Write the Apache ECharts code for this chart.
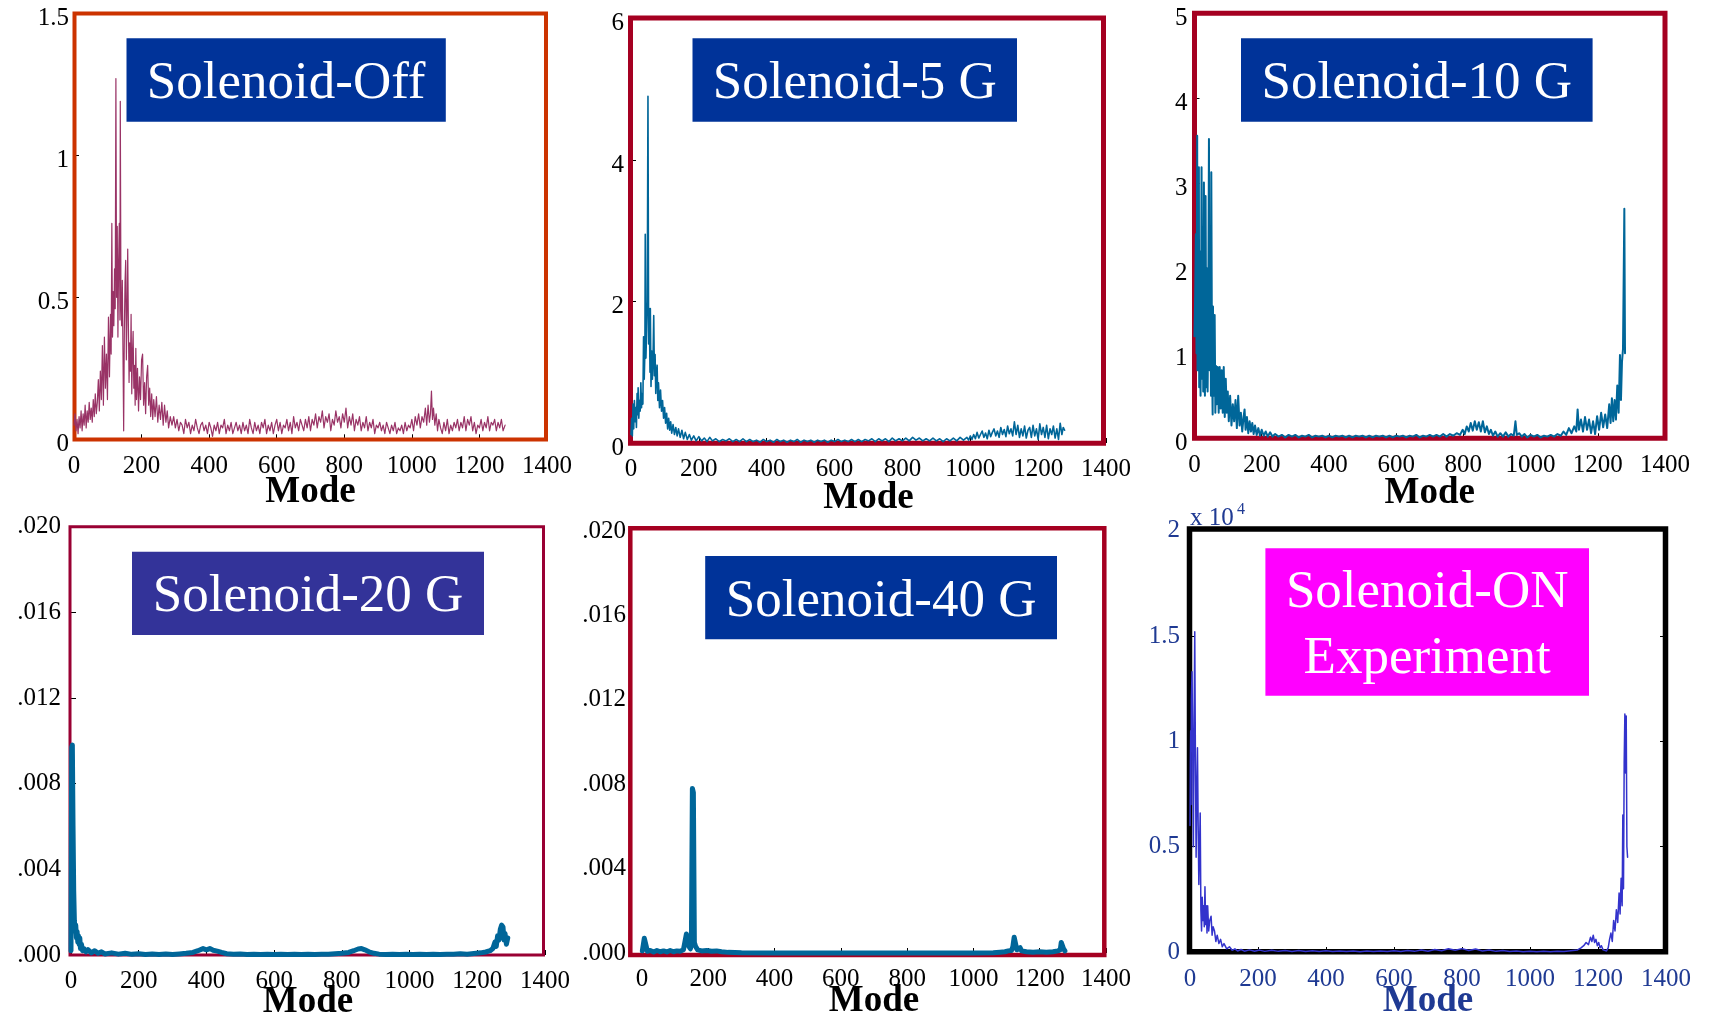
<!DOCTYPE html>
<html>
<head>
<meta charset="utf-8">
<script src="https://cdn.jsdelivr.net/npm/echarts@6/dist/echarts.min.js"></script>
<style>
html,body{margin:0;padding:0;background:#fff;}
#chart{width:1710px;height:1016px;}
</style>
</head>
<body>
<div id="chart"></div>
<script>
// ---------------- DATA ----------------
const panelTitles = ['Solenoid-Off', 'Solenoid-5 G', 'Solenoid-10 G', 'Solenoid-20 G', 'Solenoid-40 G', 'Solenoid-ON\nExperiment'];
const xAxisName = 'Mode';
const xTickStep = 200;          // modes 0..1400
const xMaxMode = 1400;
const yMaxValues = [1.5, 6, 5, 0.020, 0.020, 20000];
const yTickSteps = [0.5, 2, 1, 0.004, 0.004, 5000];
const expScaleLabel = 'x 10';   // panel 6 axis multiplier
const expScalePower = '4';

// [mode, amplitude]
const solenoidOff = [[0,0.05],[3,0.09],[6,0.03],[9,0.07],[12,0.02],[15,0.08],[18,0.04],[21,0.10],[24,0.03],[27,0.09],[30,0.05],[33,0.12],[36,0.04],[39,0.10],[42,0.06],[45,0.13],[48,0.07],[51,0.11],[54,0.06],[57,0.14],[60,0.08],[63,0.16],[66,0.09],[69,0.13],[72,0.21],[75,0.10],[78,0.24],[81,0.14],[84,0.33],[87,0.12],[90,0.36],[93,0.18],[96,0.30],[99,0.14],[102,0.43],[105,0.22],[108,0.44],[110,0.30],[112,0.76],[114,0.36],[116,0.52],[118,0.40],[120,0.60],[122,0.46],[124,1.27],[126,0.50],[128,0.75],[130,0.36],[132,0.62],[134,0.76],[136,0.42],[137,1.19],[139,0.48],[141,0.40],[143,0.56],[145,0.30],[147,0.03],[149,0.38],[151,0.55],[153,0.63],[155,0.28],[157,0.45],[159,0.67],[161,0.40],[163,0.20],[165,0.34],[167,0.24],[169,0.44],[171,0.16],[173,0.30],[175,0.38],[177,0.18],[179,0.26],[181,0.12],[183,0.32],[185,0.14],[188,0.25],[191,0.10],[194,0.22],[197,0.14],[200,0.28],[203,0.30],[206,0.12],[209,0.20],[212,0.09],[215,0.22],[218,0.26],[221,0.12],[224,0.18],[227,0.08],[230,0.16],[233,0.07],[236,0.14],[240,0.08],[244,0.15],[248,0.06],[252,0.12],[256,0.07],[260,0.13],[264,0.05],[268,0.12],[272,0.06],[276,0.10],[280,0.04],[285,0.08],
[290,0.05],[295,0.08],[300,0.04],[305,0.07],[310,0.03],[315,0.06],[320,0.05],[325,0.02],[330,0.07],[335,0.04],[340,0.06],[345,0.02],[350,0.05],[355,0.03],[360,0.07],[365,0.04],[370,0.02],[375,0.05],[380,0.06],[385,0.03],[390,0.05],[395,0.02],[400,0.06],[405,0.04],[410,0.01],[415,0.05],[420,0.03],[425,0.06],[430,0.02],[435,0.05],[440,0.04],[445,0.07],[450,0.02],[455,0.05],[460,0.03],[465,0.06],[470,0.02],[475,0.04],[480,0.06],[485,0.03],[490,0.05],[495,0.02],[500,0.06],
[505,0.03],[510,0.05],[515,0.02],[520,0.07],[525,0.04],[530,0.02],[535,0.06],[540,0.03],[545,0.05],[550,0.02],[555,0.06],[560,0.04],[565,0.07],[570,0.02],[575,0.05],[580,0.03],[585,0.06],[590,0.02],[595,0.05],[600,0.07],[605,0.03],[610,0.06],[615,0.02],[620,0.05],[625,0.04],[630,0.07],[635,0.03],[640,0.06],[645,0.02],[650,0.08],[655,0.04],[660,0.06],[665,0.03],[670,0.07],[675,0.05],[680,0.03],[685,0.07],[690,0.04],[695,0.08],[700,0.03],
[705,0.07],[710,0.05],[715,0.09],[720,0.04],[725,0.08],[730,0.06],[735,0.10],[740,0.04],[745,0.08],[750,0.06],[755,0.09],[760,0.03],[765,0.07],[770,0.05],[775,0.10],[780,0.06],[785,0.08],[790,0.04],[795,0.09],[800,0.06],[805,0.11],[810,0.04],[815,0.08],[820,0.05],[825,0.09],[830,0.03],[835,0.07],[840,0.05],[845,0.08],[850,0.03],[855,0.06],[860,0.04],[865,0.08],[870,0.03],[875,0.06],[880,0.04],[885,0.07],[890,0.02],[895,0.05],[900,0.04],
[905,0.06],[910,0.03],[915,0.05],[920,0.02],[925,0.06],[930,0.04],[935,0.02],[940,0.05],[945,0.03],[950,0.06],[955,0.02],[960,0.04],[965,0.03],[970,0.05],[975,0.02],[980,0.06],[985,0.03],[990,0.05],[995,0.04],[1000,0.07],[1005,0.03],[1010,0.08],[1015,0.05],[1020,0.09],[1025,0.04],[1030,0.08],[1035,0.06],[1040,0.11],
[1044,0.05],[1048,0.12],[1052,0.06],[1055,0.09],[1058,0.17],[1061,0.07],[1064,0.11],[1068,0.05],[1072,0.09],
[1076,0.03],[1080,0.07],[1085,0.04],[1090,0.02],[1095,0.06],[1100,0.03],[1105,0.07],[1110,0.02],[1115,0.05],[1120,0.03],[1125,0.06],[1130,0.04],[1135,0.07],[1140,0.03],[1145,0.06],[1150,0.04],[1155,0.08],[1160,0.03],[1165,0.07],[1170,0.05],[1175,0.08],[1180,0.03],[1185,0.06],[1190,0.02],[1195,0.05],[1200,0.04],[1205,0.07],[1210,0.03],[1215,0.06],[1220,0.04],[1225,0.08],[1230,0.03],[1235,0.06],[1240,0.05],[1245,0.07],[1250,0.03],[1255,0.06],[1260,0.04],[1265,0.07],[1270,0.03],[1276,0.05]];

const solenoid5G = [[0,0.12],[2,0.35],[4,0.1],[6,0.55],[8,0.2],[10,0.6],[12,0.3],[14,0.5],[16,0.22],[18,0.7],[20,0.4],[21,0.78],[23,0.35],[25,0.6],[27,0.45],[29,0.85],[31,0.5],[33,0.7],[35,0.55],[37,1.5],[39,0.9],[41,1.3],[42,2.95],[44,1.2],[46,1.6],[48,2.0],[50,4.9],[52,1.4],[54,1.9],[56,1.0],[57,1.9],[59,0.8],[61,1.3],[63,0.9],[65,1.2],[67,1.8],[69,0.95],[71,1.25],[73,0.7],[75,1.0],[77,1.1],[79,0.6],[81,0.85],[84,0.5],[87,0.75],[90,0.45],[93,0.6],[96,0.35],[99,0.5],[102,0.28],[105,0.42],[108,0.2],[111,0.35],[114,0.18],[117,0.3],[120,0.14],[124,0.26],[128,0.12],[132,0.22],[136,0.1],[140,0.2],[145,0.08],[150,0.18],[155,0.06],[160,0.15],[166,0.05],[172,0.12],[178,0.04],[185,0.1],[192,0.03],[200,0.09],[208,0.03],[216,0.07],[224,0.02],[232,0.08],[240,0.03],[250,0.06],[260,0.02],[270,0.05],[280,0.03],[290,0.06],[300,0.02],[310,0.05],[320,0.02],[330,0.06],[340,0.02],[350,0.05],[360,0.02],[370,0.04],[380,0.01],[390,0.05],[400,0.02],[410,0.04],[420,0.01],[430,0.05],[440,0.02],[450,0.04],[460,0.01],[470,0.04],[480,0.02],[490,0.05],[500,0.01],[510,0.04],[520,0.02],[530,0.04],[540,0.01],[550,0.04],[560,0.02],[570,0.04],[580,0.01],[590,0.04],[600,0.02],[610,0.05],[620,0.02],[630,0.04],[640,0.02],[650,0.05],[660,0.02],[670,0.05],[680,0.02],[690,0.05],[700,0.03],[710,0.06],[720,0.02],[730,0.06],[740,0.03],[750,0.06],[760,0.02],[770,0.07],[780,0.03],[790,0.06],[800,0.03],[810,0.07],[820,0.03],[830,0.08],[840,0.04],[850,0.07],[860,0.03],[870,0.06],[880,0.03],[890,0.07],[900,0.03],[910,0.06],[920,0.02],[930,0.06],[940,0.03],[950,0.07],[960,0.03],[970,0.08],[980,0.04],
[990,0.08],[995,0.04],[1000,0.1],[1005,0.05],[1010,0.12],[1015,0.06],[1020,0.15],[1025,0.07],[1030,0.12],[1035,0.17],[1040,0.08],[1045,0.14],[1050,0.06],[1055,0.18],[1060,0.09],[1065,0.15],[1070,0.2],[1075,0.1],[1080,0.17],[1085,0.08],[1090,0.22],[1095,0.12],[1100,0.19],[1105,0.09],[1110,0.24],[1115,0.13],[1120,0.2],[1125,0.1],[1130,0.3],[1135,0.12],[1140,0.25],[1145,0.08],[1150,0.2],[1155,0.1],[1160,0.24],[1165,0.07],[1170,0.18],[1175,0.22],[1180,0.08],[1185,0.25],[1190,0.1],[1195,0.2],[1200,0.05],[1205,0.27],[1210,0.12],[1215,0.22],[1220,0.08],[1225,0.25],[1230,0.06],[1235,0.2],[1240,0.12],[1245,0.24],[1250,0.07],[1255,0.2],[1260,0.05],[1265,0.28],[1270,0.12],[1274,0.22],[1278,0.18]];

const solenoid10G = [[0,1.2],[2,1.7],[4,2.4],[6,1.0],[8,3.56],[9,0.8],[11,3.19],[12,1.2],[13,3.19],[14,0.6],[16,2.2],[18,0.5],[20,1.8],[21,3.19],[23,0.7],[25,2.4],[26,0.55],[28,3.01],[30,1.2],[31,0.5],[33,2.85],[35,0.6],[37,2.0],[39,0.55],[41,1.4],[43,3.52],[45,0.8],[47,2.3],[49,0.5],[50,3.13],[52,0.9],[54,0.28],[55,1.55],[57,0.5],[60,1.45],[62,0.3],[64,0.85],[66,0.4],[69,0.84],[72,0.3],[75,0.84],[78,0.35],[81,0.8],[84,0.3],[87,0.84],[90,0.25],[93,0.7],[96,0.3],[99,0.55],[102,0.2],[106,0.5],[110,0.15],[114,0.4],[118,0.2],[122,0.45],[126,0.12],[130,0.5],[134,0.15],[138,0.3],[142,0.08],[146,0.25],[149,0.34],[152,0.1],[156,0.25],[160,0.06],[164,0.2],[168,0.08],[172,0.18],[176,0.05],[180,0.15],[185,0.04],[190,0.12],[195,0.03],[200,0.1],[206,0.03],[212,0.08],[218,0.02],[225,0.07],[232,0.02],[240,0.05],[250,0.02],[260,0.04],[270,0.01],[280,0.04],[290,0.02],[300,0.04],[310,0.01],[320,0.03],[330,0.02],[340,0.04],[350,0.01],[360,0.03],[370,0.02],[380,0.03],[390,0.01],[400,0.03],[410,0.01],[420,0.03],[430,0.02],[440,0.03],[450,0.01],[460,0.03],[470,0.01],[480,0.03],[490,0.02],[500,0.03],[510,0.01],[520,0.03],[530,0.01],[540,0.03],[550,0.02],[560,0.03],[570,0.01],[580,0.03],[590,0.01],[600,0.03],[610,0.02],[620,0.03],[630,0.01],[640,0.03],[650,0.02],[660,0.04],[670,0.01],[680,0.03],[690,0.02],[700,0.04],[710,0.02],[720,0.04],[730,0.02],[740,0.05],[750,0.02],[760,0.05],[770,0.03],[780,0.06],[790,0.04],[798,0.1],[804,0.05],[810,0.14],[816,0.08],[822,0.18],[828,0.09],[834,0.2],[840,0.1],[846,0.19],[852,0.08],[858,0.2],[864,0.07],[870,0.14],[876,0.05],[882,0.1],[888,0.03],[895,0.08],[902,0.02],[910,0.06],[918,0.02],[926,0.07],[934,0.02],[942,0.05],[950,0.03],[955,0.2],[959,0.04],[966,0.06],[974,0.02],[982,0.05],[990,0.01],[1000,0.04],[1010,0.02],[1020,0.04],[1030,0.01],[1040,0.03],[1050,0.02],[1060,0.04],[1070,0.02],[1080,0.05],[1090,0.03],[1098,0.08],[1106,0.04],[1114,0.12],[1122,0.06],[1130,0.14],[1136,0.08],[1140,0.34],[1144,0.1],[1150,0.22],[1156,0.08],[1162,0.25],[1168,0.1],[1174,0.22],[1180,0.06],[1186,0.2],[1192,0.05],[1198,0.26],[1204,0.1],[1210,0.3],[1216,0.13],[1222,0.28],[1228,0.12],[1234,0.4],[1238,0.18],[1242,0.47],[1246,0.2],[1250,0.45],[1254,0.22],[1258,0.62],[1262,0.3],[1266,0.98],[1269,0.45],[1272,0.9],[1275,1.05],[1279,2.7],[1281,1.0]];

const solenoid20G = [[0,0.0002],[2,0.0097],[4,0.0098],[6,0.006],[8,0.003],[10,0.0016],[12,0.0011],[14,0.0014],[16,0.0008],[18,0.0011],[20,0.0006],[22,0.0009],[24,0.0005],[26,0.0008],[28,0.0003],[31,0.0005],[34,0.0002],[38,0.0003],[44,0.00015],[50,0.00025],[60,0.0001],[70,0.0002],[80,0.00008],[90,0.00015],[100,0.00005],[120,0.0001],[140,0.00004],[160,0.00008],[180,0.00003],[200,0.00006],[220,0.00002],[240,0.00005],[260,0.00002],[280,0.00005],[300,0.00002],[320,0.00005],[340,0.00008],[360,0.00012],[375,0.0002],[390,0.0003],[400,0.00024],[410,0.0003],[420,0.00022],[432,0.00018],[445,0.00012],[460,0.00006],[480,0.00003],[500,0.00005],[520,0.00002],[540,0.00004],[560,0.00002],[580,0.00004],[600,0.00002],[620,0.00004],[640,0.00002],[660,0.00004],[680,0.00002],[700,0.00004],[720,0.00002],[740,0.00004],[760,0.00003],[780,0.00006],[800,0.00008],[820,0.00012],[835,0.0002],[848,0.00028],[858,0.0003],[868,0.00024],[880,0.00015],[895,0.00008],[910,0.00004],[930,0.00002],[950,0.00004],[970,0.00002],[990,0.00004],[1010,0.00002],[1030,0.00004],[1050,0.00002],[1070,0.00004],[1090,0.00002],[1110,0.00004],[1130,0.00003],[1150,0.00006],[1170,0.00004],[1190,0.00007],[1210,0.0001],[1225,0.00014],[1238,0.0002],[1246,0.0003],[1252,0.0006],[1256,0.0004],[1260,0.0009],[1264,0.0007],[1268,0.0012],[1272,0.0014],[1276,0.0013],[1279,0.0007],[1282,0.001],[1286,0.0005],[1290,0.0008]];

const solenoid40G = [[1,0.0001],[4,0.0004],[7,0.0007],[10,0.00075],[13,0.0003],[16,0.00008],[25,0.00012],[35,0.00005],[45,0.00012],[55,0.00006],[65,0.0001],[75,0.00005],[85,0.00012],[95,0.00006],[105,0.0001],[115,0.00008],[125,0.00015],[130,0.0002],[134,0.0009],[138,0.0009],[142,0.0003],[146,0.0002],[149,0.0004],[152,0.0078],[155,0.0076],[158,0.0005],[162,0.0003],[168,0.00015],[180,0.0001],[195,0.00012],[210,0.00008],[225,0.0001],[240,0.00006],[260,0.00003],[300,0.00001],[400,0.0],[600,0.0],[800,0.0],[1000,0.0],[1060,0.00001],[1080,0.00004],[1095,0.00006],[1105,0.0001],[1115,0.00012],[1119,0.0003],[1123,0.00075],[1127,0.0007],[1131,0.00015],[1137,0.0001],[1141,0.00025],[1145,0.0001],[1160,0.00006],[1180,0.00004],[1200,0.00006],[1220,0.00004],[1240,0.00006],[1255,0.0001],[1262,0.00015],[1265,0.0005],[1269,0.00056],[1272,0.0002],[1276,0.0001]];

const solenoidOnExperiment = [[0,6000],[1,9000],[2,10500],[3,7000],[4,12000],[6,13300],[8,9500],[10,5000],[12,11000],[14,15200],[16,9000],[18,4500],[20,7500],[22,9700],[24,6000],[26,3200],[28,5000],[30,6600],[32,2000],[34,1000],[36,2600],[38,1500],[40,2200],[42,1200],[44,3100],[46,1300],[48,2200],[50,900],[52,2200],[55,1000],[58,1500],[62,1700],[65,800],[68,1200],[72,1000],[76,500],[80,800],[85,400],[90,600],[95,250],[100,400],[108,150],[116,250],[124,80],[132,150],[140,50],[150,120],[160,40],[175,100],[190,40],[205,90],[220,30],[240,80],[260,30],[280,70],[300,25],[320,70],[340,25],[360,60],[380,20],[400,60],[420,20],[440,50],[460,20],[480,50],[500,15],[520,50],[540,20],[560,50],[580,20],[600,60],[620,25],[640,70],[660,30],[680,90],[700,40],[720,120],[740,60],[760,150],[780,80],[800,160],[820,70],[840,140],[860,50],[880,100],[900,30],[920,70],[940,20],[960,50],[980,15],[1000,40],[1020,15],[1040,40],[1060,10],[1080,40],[1100,20],[1120,60],[1140,100],[1150,200],[1158,300],[1165,450],[1172,350],[1178,700],[1182,500],[1186,800],[1190,450],[1194,600],[1198,300],[1202,450],[1206,200],[1210,300],[1215,100],[1220,150],[1225,50],[1230,200],[1234,600],[1238,900],[1242,500],[1246,1500],[1250,1000],[1254,2000],[1258,1400],[1262,2800],[1265,1800],[1268,3500],[1271,2200],[1273,6500],[1275,3000],[1277,9000],[1279,11300],[1281,8500],[1283,11200],[1285,5000],[1287,4500]];

const panelData = [solenoidOff, solenoid5G, solenoid10G, solenoid20G, solenoid40G, solenoidOnExperiment];

// ---------------- LAYOUT & STYLE ----------------
const FONT = '"Liberation Serif", "Times New Roman", serif';
const layout = [
  {grid:{left:74, top:13.3, width:473, height:426}, frame:[74.5,13.5,471.5,426], frameColor:'#CC3300', frameWidth:4,
   box:[126.5,38.3,319.3,83.4], boxColor:'#003399', line:'#993366', lineWidth:1.2, yMargin:5, yShift:5, yTicks:true, xMargin:15, nameGap:35, text:'#000'},
  {grid:{left:631, top:18.5, width:475, height:424.5}, frame:[630.5,18,473,425.3], frameColor:'#A50021', frameWidth:5,
   box:[692.5,38.3,324.5,83.4], boxColor:'#003399', line:'#006699', lineWidth:1.6, yMargin:7, yShift:5, yTicks:true, xMargin:14, nameGap:37, text:'#000'},
  {grid:{left:1194.5, top:13.3, width:470.5, height:425}, frame:[1194.5,13.3,470.5,425], frameColor:'#A50021', frameWidth:5,
   box:[1241,38.3,351.6,83.4], boxColor:'#003399', line:'#006699', lineWidth:2, yMargin:7, yShift:5, yTicks:true, xMargin:15, nameGap:37, text:'#000'},
  {grid:{left:71, top:526.7, width:474, height:428.3}, frame:[70,526.7,473.5,428.3], frameColor:'#990033', frameWidth:3,
   box:[132,551.7,352,83.3], boxColor:'#333399', line:'#006699', lineWidth:5, yMargin:10, yShift:0, yTicks:true, xMargin:14, nameGap:29, text:'#000'},
  {grid:{left:642, top:531, width:464, height:422}, frame:[630.3,528.3,474,426.7], frameColor:'#A50021', frameWidth:4.5,
   box:[705.2,556,351.8,83.3], boxColor:'#003399', line:'#006699', lineWidth:5, yMargin:16, yShift:0, yTicks:false, xMargin:14, nameGap:30, text:'#000'},
  {grid:{left:1190, top:530.7, width:476, height:421.3}, frame:[1189.5,529,476,422.7], frameColor:'#000000', frameWidth:5.5,
   box:[1265.4,548.3,323.6,147.4], boxColor:'#FF00FF', line:'#3333CC', lineWidth:1.5, yMargin:10, yShift:0, yTicks:true, xMargin:15, nameGap:31, text:'#1F3A93'}
];

const yFormatters = [
  null, null, null,
  v => v.toFixed(3).replace(/^0/, ''),
  v => v.toFixed(3).replace(/^0/, ''),
  v => String(+(v / 10000).toFixed(1))
];

const grids = [], xAxes = [], yAxes = [], series = [], graphics = [];
layout.forEach((L, i) => {
  grids.push(Object.assign({show:false, containLabel:false, outerBoundsMode:'none'}, L.grid));
  xAxes.push({
    type:'value', gridIndex:i, min:0, max:xMaxMode, interval:xTickStep,
    axisLine:{show:false}, splitLine:{show:false},
    axisTick:{show:true, inside:true, length:5, lineStyle:{color:'#000', width:1}},
    axisLabel:{fontFamily:FONT, fontSize:25, color:L.text, margin:L.xMargin, formatter:v => String(v)},
    name:xAxisName, nameLocation:'middle', nameGap:L.nameGap, nameMoveOverlap:false,
    nameTextStyle:{fontFamily:FONT, fontSize:37, fontWeight:'bold', color:L.text}
  });
  const yLabel = {fontFamily:FONT, fontSize:25, color:L.text, margin:L.yMargin};
  if (L.yShift) { yLabel.verticalAlign = 'top'; yLabel.lineHeight = 2 * L.yShift; }
  if (yFormatters[i]) yLabel.formatter = yFormatters[i];
  yAxes.push({
    type:'value', gridIndex:i, min:0, max:yMaxValues[i], interval:yTickSteps[i],
    axisLine:{show:false}, splitLine:{show:false},
    axisTick:{show:L.yTicks, inside:true, length:5, lineStyle:{color:'#000', width:1}},
    axisLabel:yLabel
  });
  series.push({
    type:'line', xAxisIndex:i, yAxisIndex:i, data:panelData[i],
    showSymbol:false, symbol:'none', clip:false, silent:true, z:3,
    lineStyle:{color:L.line, width:L.lineWidth, cap:'round', join:'round'}
  });
  const [fx, fy, fw, fh] = L.frame;
  graphics.push({type:'rect', z:1, silent:true, shape:{x:fx, y:fy, width:fw, height:fh},
    style:{fill:null, stroke:L.frameColor, lineWidth:L.frameWidth}});
  const [bx, by, bw, bh] = L.box;
  graphics.push({type:'rect', z:10, silent:true, shape:{x:bx, y:by, width:bw, height:bh},
    style:{fill:L.boxColor, stroke:null}});
  graphics.push({type:'text', z:11, silent:true, x:bx + bw/2, y:by + bh/2 + 4,
    style:{text:panelTitles[i], fill:'#fff', fontFamily:FONT, fontSize:53, align:'center', verticalAlign:'middle', lineHeight:66}});
});
// right-hand tick axis for the experiment panel
yAxes.push({
  type:'value', gridIndex:5, position:'right', min:0, max:yMaxValues[5], interval:yTickSteps[5],
  axisLine:{show:false}, splitLine:{show:false}, axisLabel:{show:false},
  axisTick:{show:true, inside:true, length:6, lineStyle:{color:'#000', width:1}}
});
graphics.push({type:'text', z:11, silent:true, x:1190, y:518,
  style:{text:expScaleLabel, fill:'#1F3A93', fontFamily:FONT, fontSize:25, align:'left', verticalAlign:'middle'}});
graphics.push({type:'text', z:11, silent:true, x:1237, y:510,
  style:{text:expScalePower, fill:'#1F3A93', fontFamily:FONT, fontSize:16, align:'left', verticalAlign:'middle'}});

const chart = echarts.init(document.getElementById('chart'), null, {renderer:'canvas'});
chart.setOption({
  animation:false,
  backgroundColor:'#ffffff',
  grid:grids, xAxis:xAxes, yAxis:yAxes, series:series,
  graphic:{elements:graphics}
});
</script>
</body>
</html>
